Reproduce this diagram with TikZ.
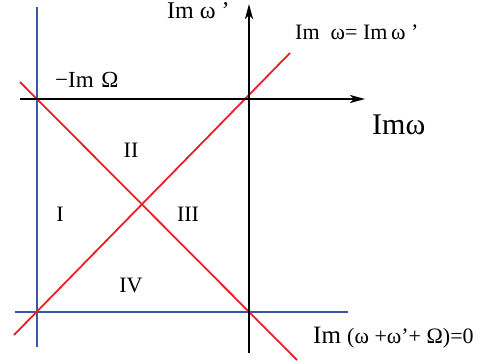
\documentclass[tikz,border=0pt]{standalone}
\usepackage{fontspec}
\setmainfont{Liberation Serif}
\usetikzlibrary{arrows.meta}
\definecolor{lblue}{RGB}{58,86,168}
\definecolor{lred}{RGB}{236,32,36}
\tikzset{axisline/.style={
    draw=black,
    line width=2pt,
    -{Stealth[length=15pt,width=8pt,inset=4pt]}
  },
  bline/.style={draw=lblue,line width=2pt},
  rline/.style={draw=lred,line width=1.8pt},
  lbl/.style={inner sep=0pt,anchor=base west},
  region/.style={inner sep=0pt,font=\fontsize{22}{22}\selectfont},
}

\begin{document}
\begin{tikzpicture}[x=1pt,y=-1pt]
  \useasboundingbox (0,0) rectangle (493,364);
  \coordinate (xs) at (20,99);
  \coordinate (xe) at (365,99);
  \coordinate (ys) at (249,353);
  \coordinate (ye) at (249,4);
  \coordinate (vt) at (37,7);
  \coordinate (vb) at (37,347);
  \coordinate (hl) at (15,312);
  \coordinate (hr) at (348,312);
  \coordinate (ra) at (14,335);
  \coordinate (rb) at (290,53);
  \coordinate (fa) at (20,82);
  \coordinate (fb) at (297,360);
  % boundary lines
  \draw[bline] (vt) -- (vb);
  \draw[bline] (hl) -- (hr);
  \draw[rline] (ra) -- (rb);
  \draw[rline] (fa) -- (fb);
  % axes
  \draw[axisline] (xs) -- (xe);
  \draw[axisline] (ys) -- (ye);
  % labels
  \node[lbl,font=\fontsize{24}{24}\selectfont] (imwp) at (167,19) {Im ω ’};
  \node[lbl,font=\fontsize{30}{30}\selectfont] (imw) at (372,134) {Imω};
  \node[lbl,font=\fontsize{22}{22}\selectfont] (diag) at (295,39)
    {Im \ ω= Im\,ω ’};
  \node[lbl,font=\fontsize{23}{23}\selectfont] (omg) at (55,87) {−Im\,\,Ω};
  \node[lbl,font=\fontsize{25}{25}\selectfont] (sum) at (313,343)
    {Im {\fontsize{22}{22}\selectfont (ω +ω’+ Ω)=0}};
  \node[region] (r2) at (131,150) {II};
  \node[region] (r1) at (60,214) {I};
  \node[region] (r3) at (188,214) {III};
  \node[region] (r4) at (131,285) {IV};
\end{tikzpicture}
\end{document}
